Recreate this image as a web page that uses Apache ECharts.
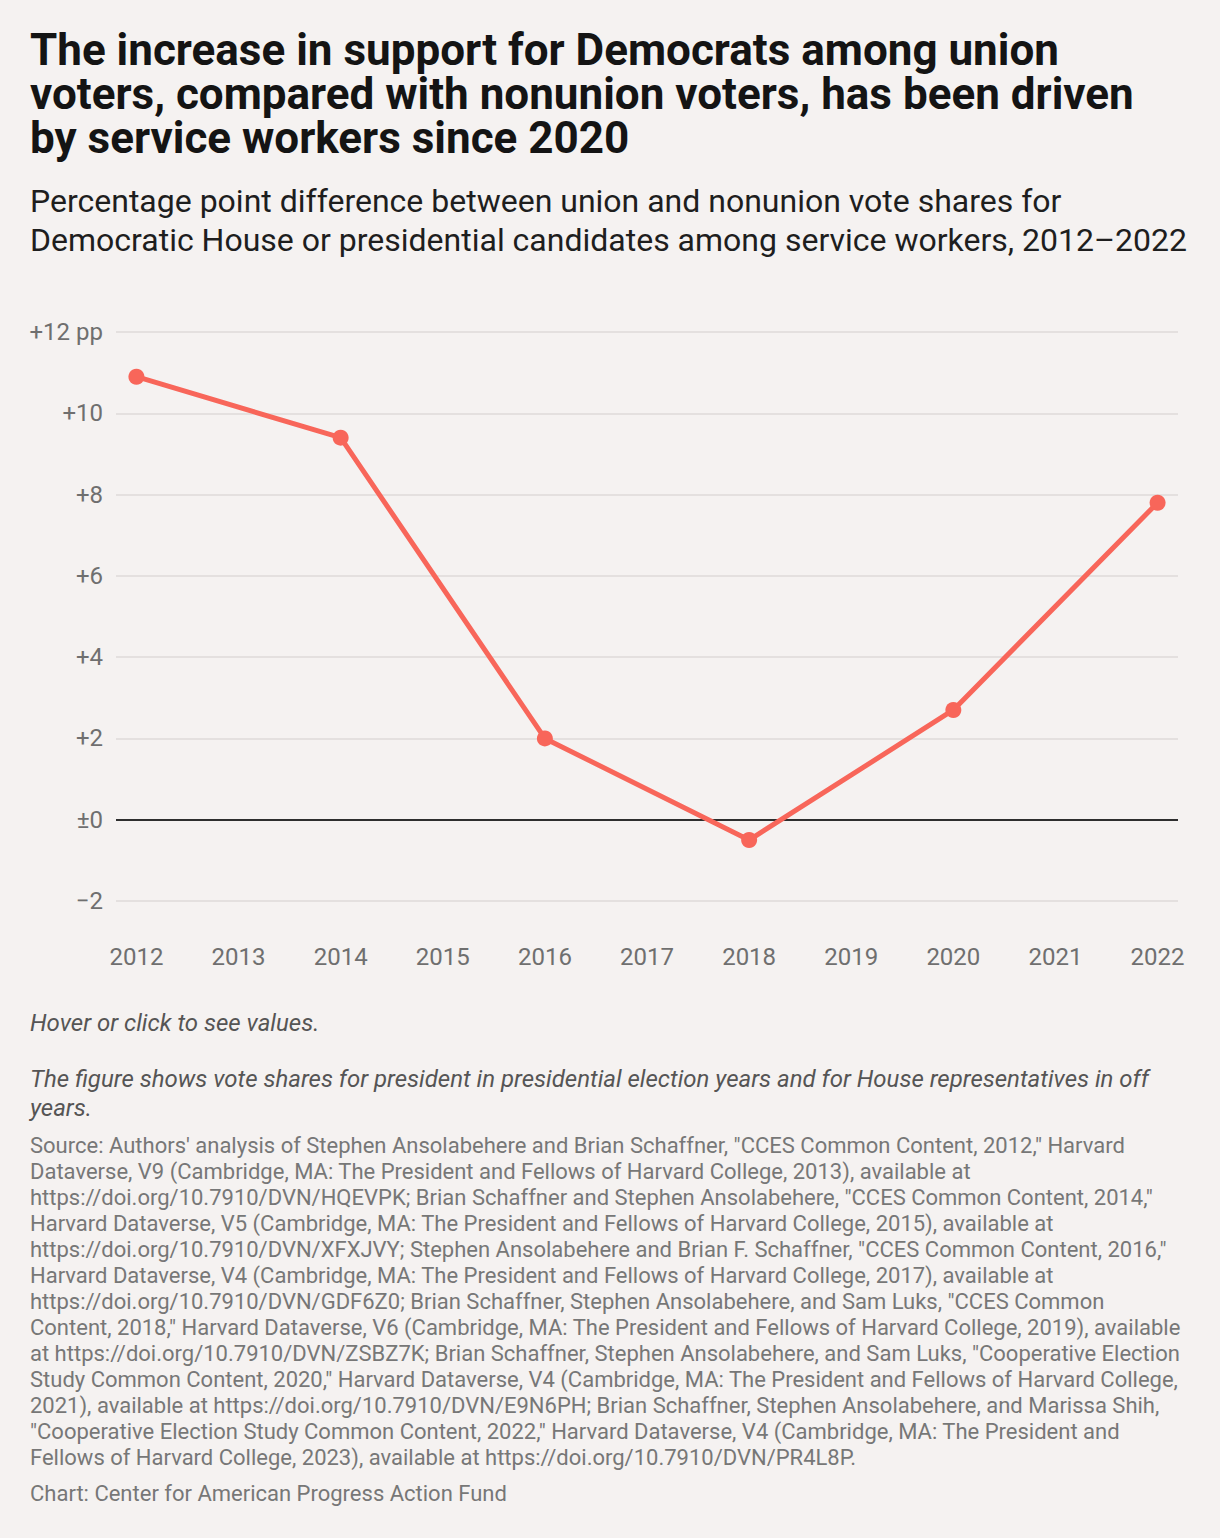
<!DOCTYPE html>
<html>
<head>
<meta charset="utf-8">
<script src="https://cdn.jsdelivr.net/npm/echarts@6/dist/echarts.min.js"></script>
<style>
  html, body { margin: 0; padding: 0; background: #f5f2f1; }
  body { width: 1220px; height: 1538px; position: relative; font-family: Roboto, "Noto Sans", sans-serif; overflow: hidden; }
  #chart { position: absolute; left: 0; top: 0; width: 1220px; height: 1538px; }
  .t { position: absolute; left: 30px; white-space: nowrap; }
  .tl { position: absolute; left: 30px; white-space: nowrap; font-size: 44px; line-height: 44px; font-weight: 700; color: #141414; }
  #subtitle { top: 182px; font-size: 32px; line-height: 39px; color: #1e1e1e; }
  #hover { top: 1009px; font-size: 24px; line-height: 29px; font-style: italic; color: #555; }
  #note { top: 1065px; font-size: 24px; line-height: 29px; font-style: italic; color: #555; }
  #source { top: 1133px; font-size: 22px; line-height: 26px; color: #777; }
  #credit { top: 1481px; font-size: 22px; line-height: 26px; color: #777; }
</style>
</head>
<body>
<div id="chart"></div>
<div class="tl" style="top:28px">The increase in support for Democrats among union</div>
<div class="tl" style="top:72px">voters, compared with nonunion voters, has been driven</div>
<div class="tl" style="top:116px">by service workers since 2020</div>
<div class="t" id="subtitle">Percentage point difference between union and nonunion vote shares for<br>Democratic House or presidential candidates among service workers, 2012–2022</div>
<div class="t" id="hover">Hover or click to see values.</div>
<div class="t" id="note">The figure shows vote shares for president in presidential election years and for House representatives in off<br>years.</div>
<div class="t" id="source">Source: Authors' analysis of Stephen Ansolabehere and Brian Schaffner, "CCES Common Content, 2012," Harvard<br>Dataverse, V9 (Cambridge, MA: The President and Fellows of Harvard College, 2013), available at<br>https://doi.org/10.7910/DVN/HQEVPK; Brian Schaffner and Stephen Ansolabehere, "CCES Common Content, 2014,"<br>Harvard Dataverse, V5 (Cambridge, MA: The President and Fellows of Harvard College, 2015), available at<br>https://doi.org/10.7910/DVN/XFXJVY; Stephen Ansolabehere and Brian F. Schaffner, "CCES Common Content, 2016,"<br>Harvard Dataverse, V4 (Cambridge, MA: The President and Fellows of Harvard College, 2017), available at<br>https://doi.org/10.7910/DVN/GDF6Z0; Brian Schaffner, Stephen Ansolabehere, and Sam Luks, "CCES Common<br>Content, 2018," Harvard Dataverse, V6 (Cambridge, MA: The President and Fellows of Harvard College, 2019), available<br>at https://doi.org/10.7910/DVN/ZSBZ7K; Brian Schaffner, Stephen Ansolabehere, and Sam Luks, "Cooperative Election<br>Study Common Content, 2020," Harvard Dataverse, V4 (Cambridge, MA: The President and Fellows of Harvard College,<br>2021), available at https://doi.org/10.7910/DVN/E9N6PH; Brian Schaffner, Stephen Ansolabehere, and Marissa Shih,<br>"Cooperative Election Study Common Content, 2022," Harvard Dataverse, V4 (Cambridge, MA: The President and<br>Fellows of Harvard College, 2023), available at https://doi.org/10.7910/DVN/PR4L8P.</div>
<div class="t" id="credit">Chart: Center for American Progress Action Fund</div>
<script>
// Data
const years = [2012, 2014, 2016, 2018, 2020, 2022];
const values = [10.9, 9.4, 2.0, -0.5, 2.7, 7.8];
const xTickYears = [2012, 2013, 2014, 2015, 2016, 2017, 2018, 2019, 2020, 2021, 2022];
const yTickLabels = { '-2': '\u22122', '0': '\u00b10', '2': '+2', '4': '+4', '6': '+6', '8': '+8', '10': '+10', '12': '+12 pp' };

const chart = echarts.init(document.getElementById('chart'), null, { renderer: 'svg' });
chart.setOption({
  backgroundColor: 'transparent',
  animation: false,
  textStyle: { fontFamily: 'Roboto' },
  grid: { left: 116, right: 42, top: 332, bottom: 637, containLabel: false },
  tooltip: { trigger: 'axis', show: true },
  xAxis: {
    type: 'value',
    min: 2011.8,
    max: 2022.2,
    axisLine: { show: false },
    axisTick: { show: false },
    splitLine: { show: false },
    axisLabel: {
      customValues: xTickYears,
      formatter: v => String(v),
      color: '#6f6f6f',
      fontSize: 24,
      margin: 44,
      fontFamily: 'Roboto'
    }
  },
  yAxis: {
    type: 'value',
    min: -2,
    max: 12,
    interval: 2,
    axisLine: { show: false },
    axisTick: { show: false },
    splitLine: { show: true, lineStyle: { color: '#dedad8', width: 1.5 } },
    axisLabel: {
      formatter: v => yTickLabels[String(v)] || String(v),
      color: '#6f6f6f',
      fontSize: 24,
      margin: 13,
      fontFamily: 'Roboto'
    }
  },
  series: [{
    type: 'line',
    data: years.map((y, i) => [y, values[i]]),
    symbol: 'circle',
    symbolSize: 16,
    lineStyle: { color: '#f8665a', width: 5 },
    itemStyle: { color: '#f8665a' },
    z: 5,
    markLine: {
      silent: true,
      symbol: 'none',
      label: { show: false },
      lineStyle: { color: '#2e2e2e', width: 2, type: 'solid' },
      data: [{ yAxis: 0 }],
      z: 1
    }
  }]
});
</script>
</body>
</html>
